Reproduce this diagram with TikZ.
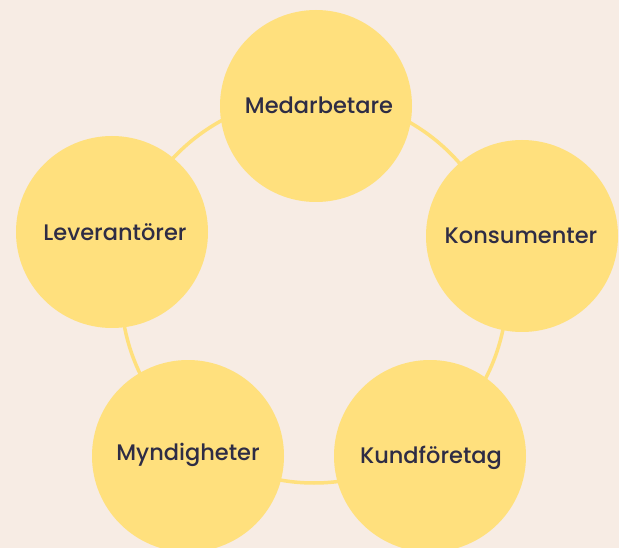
\documentclass[tikz,border=0pt]{standalone}
\usepackage{fontspec}
\setmainfont{Poppins Medium}
\definecolor{bgc}{HTML}{F7ECE4}
\definecolor{blob}{HTML}{FFE07D}
\definecolor{ink}{HTML}{2E2C45}
\begin{document}
\begin{tikzpicture}[x=1pt,y=-1pt,
  blobnode/.style={circle,fill=blob,minimum size=192pt,inner sep=0pt},
  lbl/.style={text=ink,font=\fontsize{22.5}{26}\selectfont},
  ring/.style={draw=blob,line width=3.5pt}]
\fill[bgc] (0,0) rectangle (619,548);
\useasboundingbox (0,0) rectangle (619,548);
\draw[ring] (314,290) circle[radius=193];
\begin{scope}
\clip (0,0) rectangle (619,548);
\node[blobnode] (med) at (316,106) {};
\node[blobnode] (kon) at (522,236) {};
\node[blobnode] (kun) at (430,456) {};
\node[blobnode] (myn) at (188,456) {};
\node[blobnode] (lev) at (112,232) {};
\end{scope}
\node[lbl] (tmed) at (319,105) {Medarbetare};
\node[lbl] (tkon) at (521,236) {Konsumenter};
\node[lbl] (tkun) at (431,458) {Kundföretag};
\node[lbl] (tmyn) at (188,455) {Myndigheter};
\node[lbl] (tlev) at (115,232) {Leverantörer};
\end{tikzpicture}
\end{document}
